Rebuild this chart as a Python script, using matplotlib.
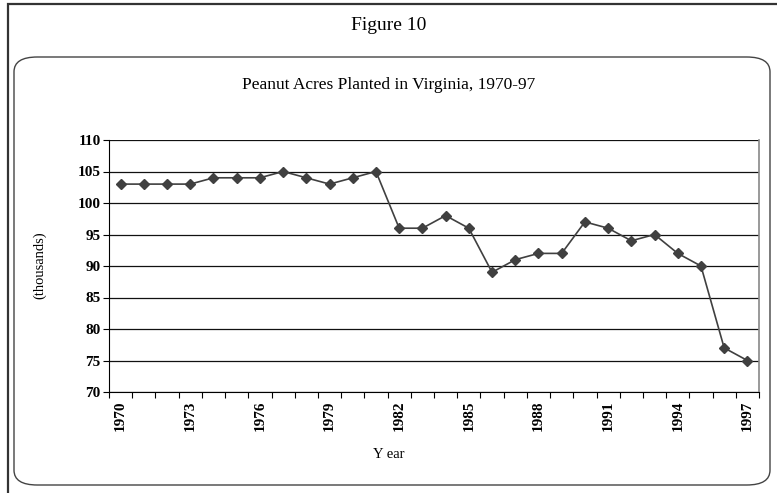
import matplotlib
matplotlib.use("Agg")
import matplotlib.pyplot as plt
from matplotlib.patches import FancyBboxPatch, Rectangle

years = list(range(1970, 1998))
acres = [103, 103, 103, 103, 104, 104, 104, 105, 104, 103, 104, 105,
         96, 96, 98, 96, 89, 91, 92, 92, 97, 96, 94, 95, 92, 90, 77, 75]
yticks = [70, 75, 80, 85, 90, 95, 100, 105, 110]
xlabels_years = years[::3]

plt.rcParams['font.family'] = ['Liberation Serif', 'DejaVu Serif']

W, H = 777, 493
fig = plt.figure(figsize=(W / 100, H / 100), dpi=100)

# outer frame
fig.patches.append(Rectangle((8 / W, -0.05), 1.1, (H - 4) / H + 0.05, transform=fig.transFigure,
                             fill=False, edgecolor='#333333', linewidth=1.6))
# inner rounded box
fig.patches.append(FancyBboxPatch((14 / W, 8 / H), (770 - 14) / W, (436 - 8) / H,
                                  boxstyle="round,pad=0,rounding_size=0.03",
                                  transform=fig.transFigure, fill=False,
                                  edgecolor='#444444', linewidth=1.0))

fig.text(0.5, 1 - 25 / H, "Figure 10", ha='center', va='center', fontsize=14)
fig.text(0.5, 1 - 85 / H, "Peanut Acres Planted in Virginia, 1970-97", ha='center', va='center', fontsize=12.5)
fig.text(0.5, 1 - 455 / H, "Y ear", ha='center', va='center', fontsize=10.5)
fig.text(40 / W, 1 - 265 / H, "(thousands)", ha='center', va='center', rotation=90, fontsize=10.5)

left, right, top, bottom = 109, 759, 140, 392
ax = fig.add_axes([left / W, 1 - bottom / H, (right - left) / W, (bottom - top) / H])

x = list(range(len(years)))
ax.plot(x, acres, color='#404040', linewidth=1.2, marker='D', markersize=5,
        markerfacecolor='#404040', markeredgecolor='#404040', zorder=3)

ax.set_xlim(-0.5, len(years) - 0.5)
ax.set_ylim(70, 110)
ax.set_yticks(yticks)
ax.set_yticklabels([str(v) for v in yticks], fontsize=11, fontweight='bold')
ax.yaxis.grid(True, color='#111111', linewidth=0.9)
ax.set_axisbelow(True)

ax.set_xticks([i - 0.5 for i in range(len(years) + 1)], minor=False)
ax.set_xticklabels([])
ax.set_xticks(x[::3], minor=True)
ax.set_xticklabels([str(y) for y in xlabels_years], minor=True, rotation=90,
                   fontsize=11, fontweight='bold')
ax.tick_params(axis='x', which='minor', length=0, pad=6)
ax.tick_params(axis='x', which='major', length=4, direction='out', color='black')
ax.tick_params(axis='y', length=4, direction='out', pad=2)

ax.spines['top'].set_visible(False)
ax.spines['right'].set_color('#888888')
ax.spines['right'].set_linewidth(1.2)
ax.spines['left'].set_color('black')
ax.spines['bottom'].set_color('black')
ax.patch.set_facecolor('white')

fig.savefig("out.png", dpi=100)
